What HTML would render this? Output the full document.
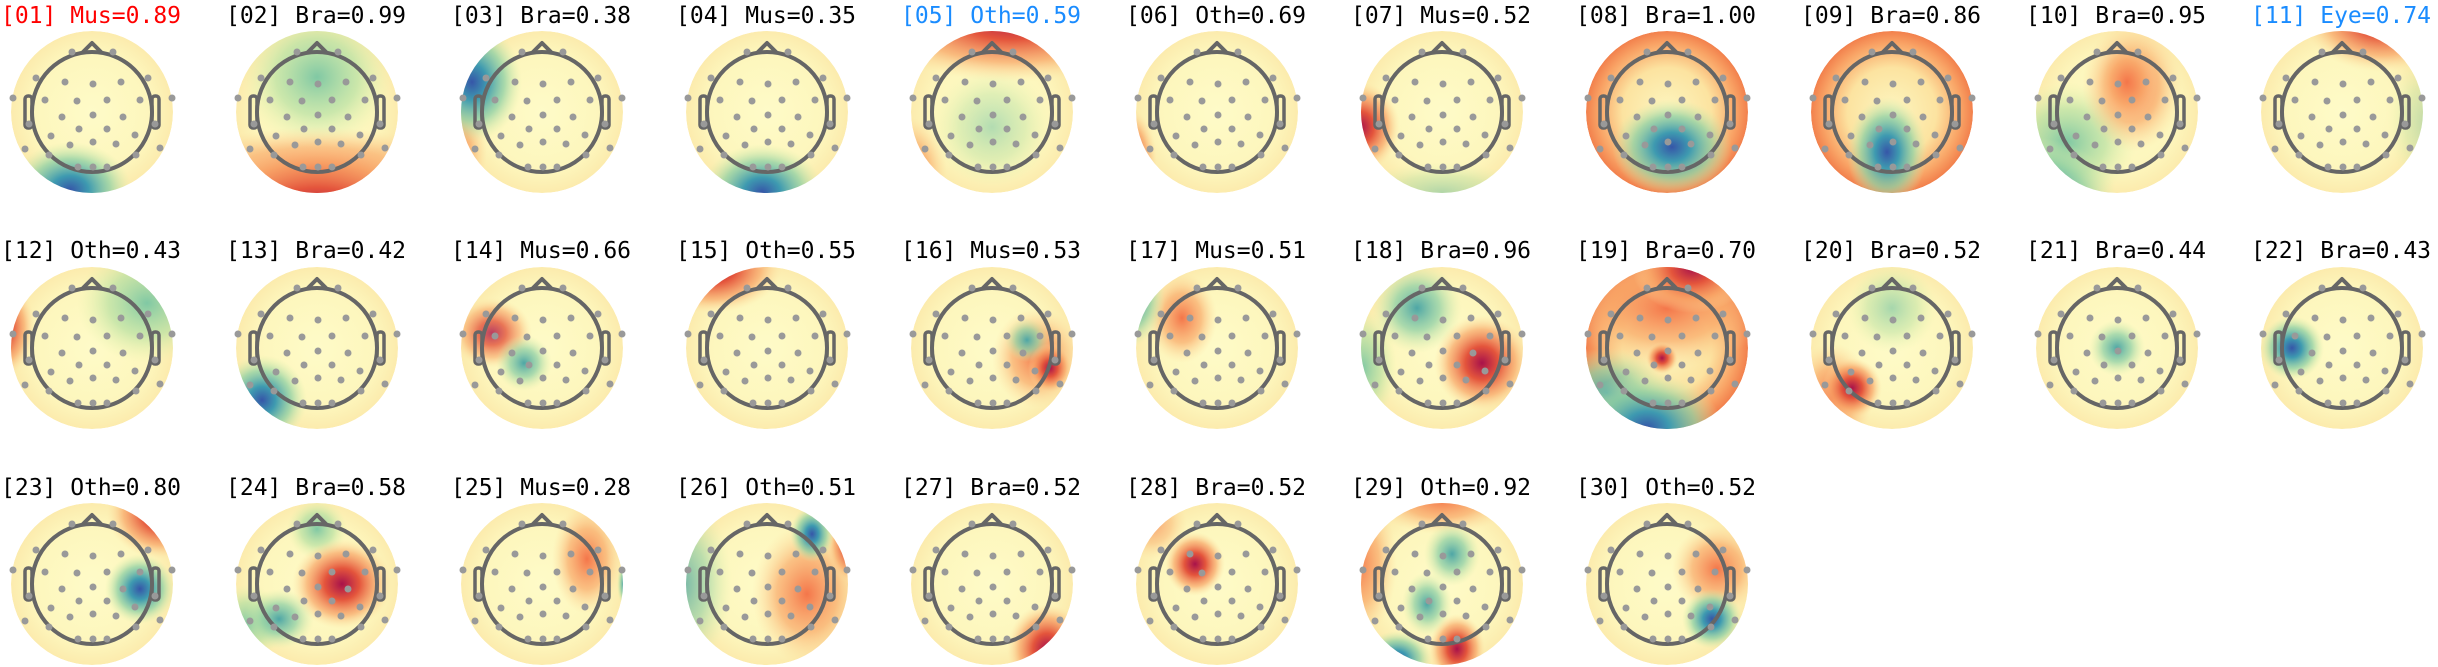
<!DOCTYPE html>
<html><head><meta charset="utf-8"><style>
html,body{margin:0;padding:0;background:#fff;width:2438px;height:667px;overflow:hidden}
svg{display:block}
text{font-family:"DejaVu Sans Mono","Liberation Mono",monospace;font-size:23px;fill:#000}
</style></head><body>
<svg width="2438" height="667" viewBox="0 0 2438 667" xmlns="http://www.w3.org/2000/svg">
<defs>
<clipPath id="c"><circle cx="0" cy="0" r="81"/></clipPath>
<radialGradient id="base"><stop offset="0" stop-color="#fefbc8"/><stop offset="0.75" stop-color="#fdf6bc"/><stop offset="1" stop-color="#fcebad"/></radialGradient>
<radialGradient id="baseO"><stop offset="0" stop-color="#fdf6c0"/><stop offset="0.55" stop-color="#fce3a0"/><stop offset="0.85" stop-color="#f9a466"/><stop offset="1" stop-color="#f2804c"/></radialGradient>
<radialGradient id="R"><stop offset="0" stop-color="#a8124a"/><stop offset="0.35" stop-color="#e4553c"/><stop offset="0.7" stop-color="#f8a466" stop-opacity="0.7"/><stop offset="1" stop-color="#fde0a0" stop-opacity="0"/></radialGradient>
<radialGradient id="O"><stop offset="0" stop-color="#f4764a"/><stop offset="0.55" stop-color="#f9a868" stop-opacity="0.7"/><stop offset="1" stop-color="#fdd99a" stop-opacity="0"/></radialGradient>
<radialGradient id="B"><stop offset="0" stop-color="#3656a8"/><stop offset="0.3" stop-color="#3e9ab0"/><stop offset="0.65" stop-color="#8ccfa4" stop-opacity="0.75"/><stop offset="1" stop-color="#d8eeaa" stop-opacity="0"/></radialGradient>
<radialGradient id="T"><stop offset="0" stop-color="#4ea6a6"/><stop offset="0.5" stop-color="#8fd0a6" stop-opacity="0.75"/><stop offset="1" stop-color="#d9eeaa" stop-opacity="0"/></radialGradient>
<radialGradient id="G"><stop offset="0" stop-color="#80c8a4"/><stop offset="0.55" stop-color="#b6e0a2" stop-opacity="0.7"/><stop offset="1" stop-color="#e6f3ac" stop-opacity="0"/></radialGradient>
<g id="h">
<circle r="60" fill="none" stroke="#666" stroke-width="4"/>
<polyline points="-10,-59 0,-69 10,-59" fill="none" stroke="#666" stroke-width="4" stroke-linejoin="round"/>
<rect x="-67" y="-16" width="7" height="32" rx="3" fill="none" stroke="#666" stroke-width="3.5"/>
<rect x="60" y="-16" width="7" height="32" rx="3" fill="none" stroke="#666" stroke-width="3.5"/>
<g fill="#999">
<circle cx="-20" cy="-60" r="3.5"/><circle cx="21" cy="-60" r="3.5"/>
<circle cx="-56" cy="-34" r="3.5"/><circle cx="-27" cy="-30" r="3.5"/><circle cx="1" cy="-28" r="3.5"/><circle cx="29" cy="-30" r="3.5"/><circle cx="56" cy="-34" r="3.5"/>
<circle cx="-79" cy="-14" r="3.5"/><circle cx="-47" cy="-12" r="3.5"/><circle cx="-15" cy="-11" r="3.5"/><circle cx="15" cy="-12" r="3.5"/><circle cx="48" cy="-12" r="3.5"/><circle cx="80" cy="-14" r="3.5"/>
<circle cx="-63" cy="12" r="3.5"/><circle cx="-30" cy="5" r="3.5"/><circle cx="1" cy="3" r="3.5"/><circle cx="31" cy="5" r="3.5"/><circle cx="63" cy="12" r="3.5"/>
<circle cx="-13" cy="17" r="3.5"/><circle cx="15" cy="17" r="3.5"/><circle cx="-41" cy="24" r="3.5"/><circle cx="43" cy="23" r="3.5"/>
<circle cx="-67" cy="37" r="3.5"/><circle cx="-22" cy="33" r="3.5"/><circle cx="1" cy="30" r="3.5"/><circle cx="24" cy="32" r="3.5"/><circle cx="68" cy="36" r="3.5"/>
<circle cx="-43" cy="43" r="3.5"/><circle cx="44" cy="43" r="3.5"/>
<circle cx="-14" cy="55" r="3.5"/><circle cx="1" cy="55" r="3.5"/><circle cx="15" cy="55" r="3.5"/>
</g></g>
</defs>

<!-- Row 1 -->
<text x="1" y="23" fill="#f00" style="fill:#f00">[01] Mus=0.89</text>
<g transform="translate(92,112)"><g clip-path="url(#c)"><circle r="81" fill="url(#base)"/><ellipse cx="-22" cy="78" rx="62" ry="48" fill="url(#B)"/></g><use href="#h"/></g>
<text x="226" y="23">[02] Bra=0.99</text>
<g transform="translate(317,112)"><g clip-path="url(#c)"><circle r="81" fill="url(#base)"/><ellipse cx="0" cy="-35" rx="75" ry="70" fill="url(#G)"/><ellipse cx="0" cy="60" rx="150" ry="45" fill="url(#O)"/><ellipse cx="0" cy="100" rx="140" ry="70" fill="url(#R)"/></g><use href="#h"/></g>
<text x="451" y="23">[03] Bra=0.38</text>
<g transform="translate(542,112)"><g clip-path="url(#c)"><circle r="81" fill="url(#base)"/><ellipse cx="-90" cy="40" rx="35" ry="55" fill="url(#O)"/><ellipse cx="-70" cy="-30" rx="50" ry="60" fill="url(#B)"/></g><use href="#h"/></g>
<text x="676" y="23">[04] Mus=0.35</text>
<g transform="translate(767,112)"><g clip-path="url(#c)"><circle r="81" fill="url(#base)"/><ellipse cx="-5" cy="80" rx="62" ry="48" fill="url(#B)"/></g><use href="#h"/></g>
<text x="901" y="23" style="fill:#1a8cff">[05] Oth=0.59</text>
<g transform="translate(992,112)"><g clip-path="url(#c)"><circle r="81" fill="url(#base)"/><ellipse cx="0" cy="15" rx="60" ry="60" fill="url(#G)" opacity="0.6"/><ellipse cx="-85" cy="60" rx="40" ry="55" fill="url(#O)"/><ellipse cx="20" cy="-95" rx="150" ry="65" fill="url(#R)"/></g><use href="#h"/></g>
<text x="1126" y="23">[06] Oth=0.69</text>
<g transform="translate(1217,112)"><g clip-path="url(#c)"><circle r="81" fill="url(#base)"/><ellipse cx="-90" cy="50" rx="30" ry="55" fill="url(#R)"/></g><use href="#h"/></g>
<text x="1351" y="23">[07] Mus=0.52</text>
<g transform="translate(1442,112)"><g clip-path="url(#c)"><circle r="81" fill="url(#base)"/><ellipse cx="0" cy="80" rx="90" ry="30" fill="url(#G)" opacity="0.6"/><ellipse cx="-82" cy="15" rx="40" ry="45" fill="url(#R)"/></g><use href="#h"/></g>
<text x="1576" y="23">[08] Bra=1.00</text>
<g transform="translate(1667,112)"><g clip-path="url(#c)"><circle r="81" fill="url(#baseO)"/><ellipse cx="5" cy="35" rx="60" ry="48" fill="url(#B)"/></g><use href="#h"/></g>
<text x="1801" y="23">[09] Bra=0.86</text>
<g transform="translate(1892,112)"><g clip-path="url(#c)"><circle r="81" fill="url(#baseO)"/><ellipse cx="-5" cy="40" rx="40" ry="55" fill="url(#B)"/></g><use href="#h"/></g>
<text x="2026" y="23">[10] Bra=0.95</text>
<g transform="translate(2117,112)"><g clip-path="url(#c)"><circle r="81" fill="url(#base)"/><ellipse cx="-50" cy="30" rx="70" ry="60" fill="url(#G)"/><ellipse cx="-90" cy="85" rx="90" ry="60" fill="url(#B)"/><ellipse cx="15" cy="-25" rx="50" ry="65" fill="url(#O)"/><ellipse cx="10" cy="-30" rx="30" ry="40" fill="url(#O)"/></g><use href="#h"/></g>
<text x="2251" y="23" style="fill:#1a8cff">[11] Eye=0.74</text>
<g transform="translate(2342,112)"><g clip-path="url(#c)"><circle r="81" fill="url(#base)"/><ellipse cx="85" cy="10" rx="40" ry="70" fill="url(#G)" opacity="0.5"/><ellipse cx="40" cy="-95" rx="80" ry="55" fill="url(#R)"/></g><use href="#h"/></g>

<!-- Row 2 -->
<text x="1" y="258">[12] Oth=0.43</text>
<g transform="translate(92,348)"><g clip-path="url(#c)"><circle r="81" fill="url(#base)"/><ellipse cx="55" cy="-45" rx="70" ry="60" fill="url(#G)"/><ellipse cx="-92" cy="-20" rx="35" ry="50" fill="url(#R)"/></g><use href="#h"/></g>
<text x="226" y="258">[13] Bra=0.42</text>
<g transform="translate(317,348)"><g clip-path="url(#c)"><circle r="81" fill="url(#base)"/><ellipse cx="-55" cy="52" rx="45" ry="45" fill="url(#B)"/></g><use href="#h"/></g>
<text x="451" y="258">[14] Mus=0.66</text>
<g transform="translate(542,348)"><g clip-path="url(#c)"><circle r="81" fill="url(#base)"/><ellipse cx="-50" cy="-15" rx="40" ry="35" fill="url(#R)" opacity="0.8"/><ellipse cx="-18" cy="15" rx="28" ry="28" fill="url(#T)"/></g><use href="#h"/></g>
<text x="676" y="258">[15] Oth=0.55</text>
<g transform="translate(767,348)"><g clip-path="url(#c)"><circle r="81" fill="url(#base)"/><ellipse cx="-55" cy="-80" rx="70" ry="45" fill="url(#R)"/></g><use href="#h"/></g>
<text x="901" y="258">[16] Mus=0.53</text>
<g transform="translate(992,348)"><g clip-path="url(#c)"><circle r="81" fill="url(#base)"/><ellipse cx="45" cy="10" rx="45" ry="50" fill="url(#O)"/><ellipse cx="35" cy="-8" rx="22" ry="22" fill="url(#T)"/><ellipse cx="58" cy="20" rx="22" ry="25" fill="url(#R)"/></g><use href="#h"/></g>
<text x="1126" y="258">[17] Mus=0.51</text>
<g transform="translate(1217,348)"><g clip-path="url(#c)"><circle r="81" fill="url(#base)"/><ellipse cx="-35" cy="-30" rx="35" ry="45" fill="url(#O)"/><ellipse cx="-92" cy="-50" rx="40" ry="50" fill="url(#B)"/></g><use href="#h"/></g>
<text x="1351" y="258">[18] Bra=0.96</text>
<g transform="translate(1442,348)"><g clip-path="url(#c)"><circle r="81" fill="url(#base)"/><ellipse cx="-80" cy="20" rx="35" ry="60" fill="url(#G)"/><ellipse cx="-25" cy="-40" rx="45" ry="45" fill="url(#T)"/><ellipse cx="40" cy="15" rx="48" ry="48" fill="url(#R)"/></g><use href="#h"/></g>
<text x="1576" y="258">[19] Bra=0.70</text>
<g transform="translate(1667,348)"><g clip-path="url(#c)"><circle r="81" fill="url(#baseO)"/><ellipse cx="0" cy="-40" rx="100" ry="60" fill="url(#O)"/><ellipse cx="25" cy="-80" rx="60" ry="45" fill="url(#R)"/><ellipse cx="-60" cy="45" rx="60" ry="45" fill="url(#T)"/><ellipse cx="-20" cy="80" rx="75" ry="55" fill="url(#B)"/><ellipse cx="-5" cy="10" rx="16" ry="16" fill="url(#R)"/></g><use href="#h"/></g>
<text x="1801" y="258">[20] Bra=0.52</text>
<g transform="translate(1892,348)"><g clip-path="url(#c)"><circle r="81" fill="url(#base)"/><ellipse cx="0" cy="-40" rx="45" ry="45" fill="url(#G)" opacity="0.7"/><ellipse cx="-60" cy="50" rx="40" ry="55" fill="url(#O)"/><ellipse cx="-40" cy="40" rx="30" ry="30" fill="url(#R)"/></g><use href="#h"/></g>
<text x="2026" y="258">[21] Bra=0.44</text>
<g transform="translate(2117,348)"><g clip-path="url(#c)"><circle r="81" fill="url(#base)"/><ellipse cx="0" cy="0" rx="28" ry="28" fill="url(#T)"/></g><use href="#h"/></g>
<text x="2251" y="258">[22] Bra=0.43</text>
<g transform="translate(2342,348)"><g clip-path="url(#c)"><circle r="81" fill="url(#base)"/><ellipse cx="-50" cy="0" rx="32" ry="32" fill="url(#B)"/></g><use href="#h"/></g>

<!-- Row 3 -->
<text x="1" y="495">[23] Oth=0.80</text>
<g transform="translate(92,584)"><g clip-path="url(#c)"><circle r="81" fill="url(#base)"/><ellipse cx="70" cy="-70" rx="55" ry="45" fill="url(#R)"/><ellipse cx="48" cy="5" rx="35" ry="35" fill="url(#B)"/></g><use href="#h"/></g>
<text x="226" y="495">[24] Bra=0.58</text>
<g transform="translate(317,584)"><g clip-path="url(#c)"><circle r="81" fill="url(#base)"/><ellipse cx="0" cy="-55" rx="30" ry="30" fill="url(#G)"/><ellipse cx="-70" cy="40" rx="35" ry="40" fill="url(#G)"/><ellipse cx="25" cy="0" rx="50" ry="45" fill="url(#R)"/><ellipse cx="-38" cy="35" rx="35" ry="30" fill="url(#T)"/></g><use href="#h"/></g>
<text x="451" y="495">[25] Mus=0.28</text>
<g transform="translate(542,584)"><g clip-path="url(#c)"><circle r="81" fill="url(#base)"/><ellipse cx="45" cy="-25" rx="35" ry="55" fill="url(#O)"/><ellipse cx="85" cy="0" rx="10" ry="25" fill="url(#B)"/></g><use href="#h"/></g>
<text x="676" y="495">[26] Oth=0.51</text>
<g transform="translate(767,584)"><g clip-path="url(#c)"><circle r="81" fill="url(#base)"/><ellipse cx="-85" cy="0" rx="50" ry="90" fill="url(#T)" opacity="0.8"/><ellipse cx="40" cy="10" rx="55" ry="70" fill="url(#O)"/><ellipse cx="85" cy="-40" rx="25" ry="40" fill="url(#R)"/><ellipse cx="45" cy="-50" rx="22" ry="28" fill="url(#B)"/></g><use href="#h"/></g>
<text x="901" y="495">[27] Bra=0.52</text>
<g transform="translate(992,584)"><g clip-path="url(#c)"><circle r="81" fill="url(#base)"/><ellipse cx="55" cy="65" rx="40" ry="45" fill="url(#R)"/></g><use href="#h"/></g>
<text x="1126" y="495">[28] Bra=0.52</text>
<g transform="translate(1217,584)"><g clip-path="url(#c)"><circle r="81" fill="url(#base)"/><ellipse cx="-65" cy="-60" rx="35" ry="35" fill="url(#O)" opacity="0.6"/><ellipse cx="-22" cy="-20" rx="30" ry="32" fill="url(#R)"/></g><use href="#h"/></g>
<text x="1351" y="495">[29] Oth=0.92</text>
<g transform="translate(1442,584)"><g clip-path="url(#c)"><circle r="81" fill="url(#base)"/><ellipse cx="-85" cy="-20" rx="40" ry="75" fill="url(#O)"/><ellipse cx="0" cy="-85" rx="70" ry="35" fill="url(#O)"/><ellipse cx="10" cy="-30" rx="28" ry="32" fill="url(#T)"/><ellipse cx="-15" cy="20" rx="25" ry="32" fill="url(#T)"/><ellipse cx="-45" cy="75" rx="35" ry="28" fill="url(#B)"/><ellipse cx="15" cy="65" rx="28" ry="35" fill="url(#R)"/></g><use href="#h"/></g>
<text x="1576" y="495">[30] Oth=0.52</text>
<g transform="translate(1667,584)"><g clip-path="url(#c)"><circle r="81" fill="url(#base)"/><ellipse cx="50" cy="-15" rx="45" ry="45" fill="url(#O)"/><ellipse cx="45" cy="35" rx="30" ry="30" fill="url(#B)"/></g><use href="#h"/></g>
</svg>
</body></html>
